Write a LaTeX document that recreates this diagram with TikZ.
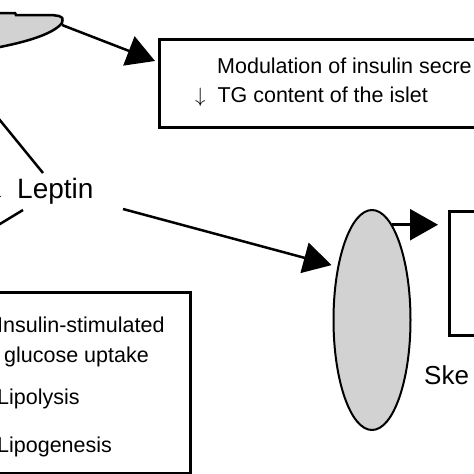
\documentclass[tikz,border=0pt]{standalone}
\usepackage{fontspec}
\setmainfont{Liberation Sans}
\usetikzlibrary{arrows.meta,shapes.geometric}

\begin{document}
\begin{tikzpicture}[x=1pt,y=-1pt,
		bigarrow/.style={line width=2.5pt,-{Triangle[length=28pt,width=31pt]}},
		plainline/.style={line width=2.5pt},
		panel/.style={draw,line width=3pt,inner sep=0pt},
		boxtext/.style={font=\fontsize{21.5}{26}\selectfont,anchor=base west,inner sep=0pt},
		bigtext/.style={font=\fontsize{28}{32}\selectfont,anchor=base west,inner sep=0pt}]
		\useasboundingbox (0,0) rectangle (474,474);
		\clip (0,0) rectangle (474,474);
		% islet (cut at the corner)
		\draw[fill=gray!35,line width=2.5pt] (-5,13) -- (15,13) -- (16,15) -- (52,15) -- (59,16)
			.. controls (63,18) .. (62,23) .. controls (55,32) and (35,40) .. (0,47) -- (-5,48) -- cycle;
		\coordinate (islettip) at (62,25);
		% boxes
		\node[panel,anchor=north west,minimum width=340pt,minimum height=88pt] (isletbox) at (158,38) {};
		\node[panel,anchor=north west,minimum width=60pt,minimum height=124pt] (musclebox) at (448,210) {};
		\node[panel,anchor=north east,minimum width=230pt,minimum height=181pt] (fatbox) at (192,291) {};
		\node[ellipse,draw,fill=gray!35,line width=2pt,minimum width=77pt,minimum height=220pt,inner sep=0pt] (muscle) at (372,320) {};
		% texts
		\node[boxtext] (modtxt) at (217,73) {Modulation of insulin secre};
		\node[boxtext] (tgtxt) at (195,102) {$\downarrow$~~TG content of the islet};
		\node[bigtext] (leptin) at (-11,198) {$\downarrow$~~Leptin};
		\node[bigtext,font=\fontsize{26}{30}\selectfont] (sketxt) at (424,384) {Ske};
		\node[boxtext] (insutxt) at (-3,332) {Insulin-stimulated};
		\node[boxtext] (glutxt) at (4,362) {glucose uptake};
		\node[boxtext] (lipotxt) at (-3,404) {Lipolysis};
		\node[boxtext] (lipgtxt) at (-3,452) {Lipogenesis};
		% connectors
		\coordinate (fatin) at (-10,108);
		\coordinate (lepin) at (43,173);
		\coordinate (lepdown) at (23,210);
		\coordinate (fatout) at (-10,230);
		\coordinate (lepout) at (123,209);
		\draw[plainline] (fatin) -- (lepin);
		\draw[plainline] (lepdown) -- (fatout);
		\draw[bigarrow] (islettip) -- ([xshift=-3pt,yshift=-23pt]isletbox.north west);
		\draw[bigarrow,shorten >=6pt] (lepout) -- (muscle.123);
		\draw[bigarrow,shorten >=10pt] (muscle.78) -- (muscle.78 -| musclebox.west);
\end{tikzpicture}
\end{document}
